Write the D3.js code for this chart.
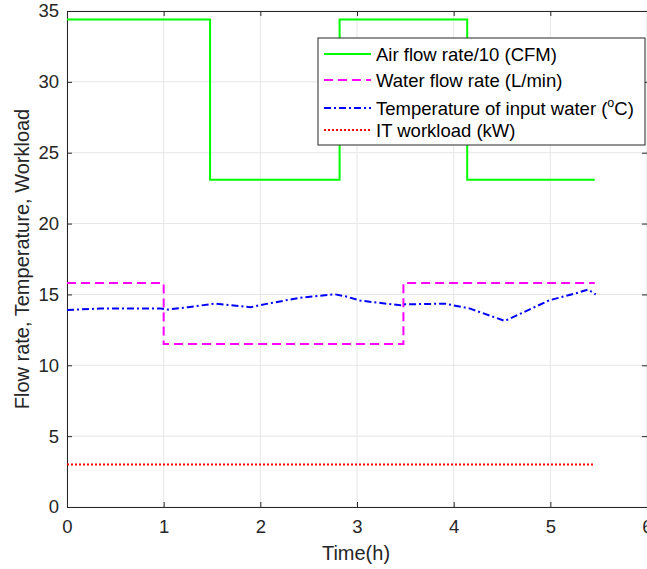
<!DOCTYPE html>
<html>
<head>
<meta charset="utf-8">
<script src="https://cdn.jsdelivr.net/npm/d3@7"></script>
<style>
  body { margin: 0; background: #fff; }
  text { font-family: "Liberation Sans", Arial, sans-serif; }
</style>
</head>
<body>
<div id="chart"></div>
<script>
// series data (time in hours)
const airFlow = [[0, 34.4], [1.48, 34.4], [1.48, 23.1], [2.82, 23.1], [2.82, 34.4], [4.14, 34.4], [4.14, 23.1], [5.46, 23.1]];
const waterFlow = [[0, 15.8], [1.0, 15.8], [1.0, 11.5], [3.48, 11.5], [3.48, 15.8], [5.46, 15.8]];
const waterTemp = [[0, 13.9], [0.34, 14.0], [0.7, 14.0], [0.97, 14.0], [1.04, 13.93], [1.25, 14.1], [1.53, 14.35], [1.9, 14.1], [2.0, 14.25],
  [2.41, 14.77], [2.77, 15.01], [2.88, 14.87], [3.03, 14.57], [3.45, 14.23], [3.5, 14.3], [3.91, 14.35], [4.17, 14.0],
  [4.53, 13.13], [4.99, 14.59], [5.25, 15.05], [5.39, 15.34], [5.47, 15.0]];
const itWorkload = [[0, 3.0], [5.46, 3.0]];

const xTicks = [0, 1, 2, 3, 4, 5, 6];
const yTicks = [0, 5, 10, 15, 20, 25, 30, 35];

const legendItems = [
  { label: "Air flow rate/10 (CFM)", color: "#00ff00", dash: null, data: airFlow },
  { label: "Water flow rate (L/min)", color: "#ff00ff", dash: "9,5", data: waterFlow },
  { label: "Temperature of input water (", sup: "o", tail: "C)", color: "#0000ff", dash: "7,3,2,3", data: waterTemp },
  { label: "IT workload (kW)", color: "#ff0000", dash: "2,2", data: itWorkload }
];

const W = 647, H = 569;
const margin = { top: 11, right: 0, bottom: 62, left: 67 };
const width = W - margin.left - margin.right;
const height = H - margin.top - margin.bottom;

const svg = d3.select("#chart").append("svg")
  .attr("width", W).attr("height", H);

const g = svg.append("g").attr("transform", `translate(${margin.left},${margin.top})`);

const x = d3.scaleLinear().domain([0, 6]).range([0, width]);
const y = d3.scaleLinear().domain([0, 35]).range([height, 0]);

// grid
g.append("g").selectAll("line").data(xTicks).join("line")
  .attr("x1", d => x(d)).attr("x2", d => x(d)).attr("y1", 0).attr("y2", height)
  .attr("stroke", "#e6e6e6").attr("stroke-width", 1);
g.append("g").selectAll("line").data(yTicks).join("line")
  .attr("y1", d => y(d)).attr("y2", d => y(d)).attr("x1", 0).attr("x2", width)
  .attr("stroke", "#e6e6e6").attr("stroke-width", 1);

// axes (matlab style: ticks inside, box)
const axColor = "#262626";
const xAxis = g.append("g").attr("transform", `translate(0,${height})`)
  .call(d3.axisBottom(x).tickValues(xTicks).tickSize(-5).tickFormat(d3.format("d")));
const yAxis = g.append("g")
  .call(d3.axisLeft(y).tickValues(yTicks).tickSize(-5).tickFormat(d3.format("d")));
const xTop = g.append("g")
  .call(d3.axisTop(x).tickValues(xTicks).tickSize(-5).tickFormat(""));
const yRight = g.append("g").attr("transform", `translate(${width},0)`)
  .call(d3.axisRight(y).tickValues(yTicks).tickSize(-5).tickFormat(""));
[xAxis, yAxis, xTop, yRight].forEach(a => {
  a.select(".domain").attr("stroke", axColor).attr("stroke-width", 1);
  a.selectAll(".tick line").attr("stroke", axColor);
  a.selectAll(".tick text").attr("fill", axColor).style("font-size", "18.5px")
    .style("font-family", '"Liberation Sans", Arial, sans-serif');
});
xAxis.selectAll(".tick text").attr("dy", "0.71em").attr("y", 13);
yAxis.selectAll(".tick text").attr("x", -8);

// lines
const line = d3.line().x(d => x(d[0])).y(d => y(d[1]));
legendItems.forEach(s => {
  g.append("path").datum(s.data)
    .attr("d", line)
    .attr("fill", "none")
    .attr("stroke", s.color)
    .attr("stroke-width", 2)
    .attr("stroke-dasharray", s.dash);
});

// axis labels
svg.append("text")
  .attr("x", margin.left + width / 2 - 1).attr("y", 560)
  .attr("text-anchor", "middle").attr("fill", axColor)
  .style("font-size", "20px").text("Time(h)");
svg.append("text")
  .attr("transform", `translate(29,${margin.top + height / 2}) rotate(-90)`)
  .attr("text-anchor", "middle").attr("fill", axColor)
  .style("font-size", "20px").text("Flow rate, Temperature, Workload");

// legend
const lg = svg.append("g").attr("transform", "translate(318,38)");
lg.append("rect").attr("width", 327).attr("height", 107)
  .attr("fill", "#fff").attr("stroke", axColor).attr("stroke-width", 1);
const rowY = [16, 42, 70, 92];
legendItems.forEach((s, i) => {
  const row = lg.append("g").attr("transform", `translate(0,${rowY[i]})`);
  row.append("line").attr("x1", 6).attr("x2", 53).attr("y1", 0).attr("y2", 0)
    .attr("stroke", s.color).attr("stroke-width", 2).attr("stroke-dasharray", s.dash);
  const t = row.append("text").attr("x", 58).attr("y", 6.5)
    .attr("fill", "#000").style("font-size", "18.5px");
  t.append("tspan").text(s.label);
  if (s.sup) {
    t.append("tspan").attr("dy", -8).style("font-size", "12.5px").text(s.sup);
    t.append("tspan").attr("dy", 8).text(s.tail);
  }
});
</script>
</body>
</html>
